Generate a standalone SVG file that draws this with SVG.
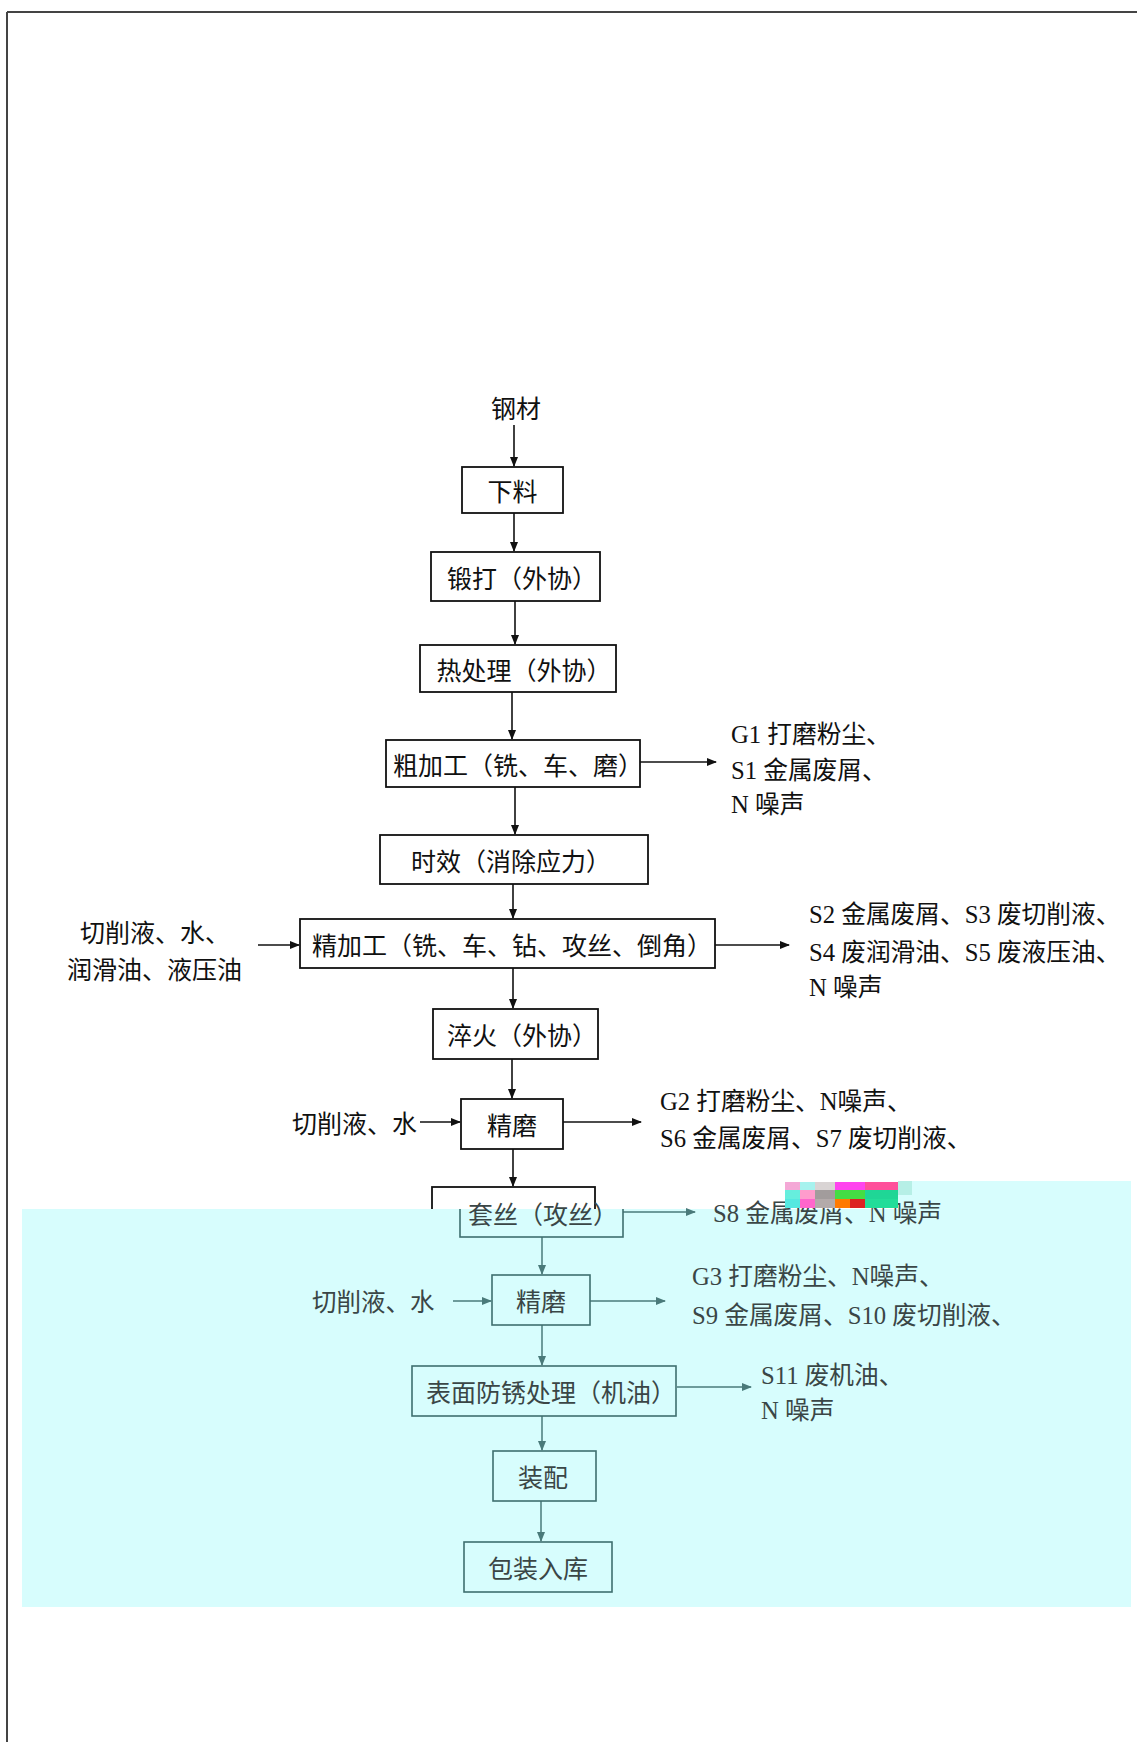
<svg xmlns="http://www.w3.org/2000/svg" width="1137" height="1742" viewBox="0 0 1137 1742">
<style>
.box{fill:none;stroke:#111;stroke-width:1.8}
.boxc{fill:none;stroke:#3f6f6f;stroke-width:1.6}
.t{font-family:"Noto Sans CJK SC",sans-serif;font-size:25px;fill:#111;text-anchor:middle;dominant-baseline:central}
.tc{font-family:"Noto Sans CJK SC",sans-serif;font-size:25px;fill:#3a4646;text-anchor:middle;dominant-baseline:central}
.l{font-family:"Liberation Serif","Noto Sans CJK SC",serif;font-size:24.7px;fill:#111;dominant-baseline:central}
.lc{font-family:"Liberation Serif","Noto Sans CJK SC",serif;font-size:24.7px;fill:#3a4646;dominant-baseline:central}
.s{font-family:"Noto Sans CJK SC",sans-serif;font-size:25px;fill:#111;dominant-baseline:central}
.sc{font-family:"Noto Sans CJK SC",sans-serif;font-size:24.5px;fill:#3a4646;dominant-baseline:central}
.a{stroke:#111;stroke-width:1.6;fill:none;marker-end:url(#ah)}
.ac{stroke:#4a7a7a;stroke-width:1.5;fill:none;marker-end:url(#ahc)}
</style>
<defs>
<marker id="ah" markerWidth="10" markerHeight="8" refX="9" refY="4" orient="auto" markerUnits="userSpaceOnUse"><path d="M0,0 L10,4 L0,8 Z" fill="#111"/></marker>
<marker id="ahc" markerWidth="10" markerHeight="8" refX="9" refY="4" orient="auto" markerUnits="userSpaceOnUse"><path d="M0,0 L10,4 L0,8 Z" fill="#4a7a7a"/></marker>
<clipPath id="upper"><rect x="0" y="0" width="1137" height="1209"/></clipPath>
<clipPath id="lower"><rect x="0" y="1209" width="1137" height="533"/></clipPath>
</defs>
<rect width="1137" height="1742" fill="#fff"/>
<g id="frame">
<line x1="7" y1="12" x2="1137" y2="12" stroke="#444" stroke-width="2"/>
<line x1="7" y1="12" x2="7" y2="1742" stroke="#444" stroke-width="2"/>
</g>
<g id="overlay">
<rect x="22" y="1209" width="1109" height="398" fill="#d7fdfd"/>
<rect x="898" y="1181" width="233" height="28" fill="#d7fdfd"/>
</g>
<g id="connectors">
<line class="a" x1="514" y1="425" x2="514" y2="466"/>
<line class="a" x1="514" y1="513" x2="514" y2="551"/>
<line class="a" x1="515" y1="601" x2="515" y2="644"/>
<line class="a" x1="512" y1="692" x2="512" y2="739"/>
<line class="a" x1="640" y1="762" x2="716" y2="762"/>
<line class="a" x1="515" y1="787" x2="515" y2="834"/>
<line class="a" x1="513" y1="884" x2="513" y2="918"/>
<line class="a" x1="258" y1="945" x2="299" y2="945"/>
<line class="a" x1="715" y1="945" x2="789" y2="945"/>
<line class="a" x1="513" y1="968" x2="513" y2="1008"/>
<line class="a" x1="512" y1="1059" x2="512" y2="1098"/>
<line class="a" x1="420" y1="1122" x2="460" y2="1122"/>
<line class="a" x1="563" y1="1122" x2="641" y2="1122"/>
<line class="a" x1="513" y1="1149" x2="513" y2="1186"/>
<line class="ac" x1="623" y1="1212" x2="695" y2="1212"/>
<line class="ac" x1="542" y1="1237" x2="542" y2="1274"/>
<line class="ac" x1="453" y1="1301" x2="491" y2="1301"/>
<line class="ac" x1="590" y1="1301" x2="665" y2="1301"/>
<line class="ac" x1="542" y1="1325" x2="542" y2="1365"/>
<line class="ac" x1="677" y1="1387" x2="751" y2="1387"/>
<line class="ac" x1="542" y1="1416" x2="542" y2="1450"/>
<line class="ac" x1="541" y1="1501" x2="541" y2="1541"/>
</g>
<g id="n-gangcai"><text class="t" x="516" y="407" font-size="24">钢材</text></g>
<g id="n-xialiao"><rect class="box" x="462" y="467" width="101" height="46"/><text class="t" x="512.5" y="490" font-size="24">下料</text></g>
<g id="n-duanda"><rect class="box" x="431" y="552" width="169" height="49"/><text class="t" x="522" y="576.5">锻打（外协）</text></g>
<g id="n-rechuli"><rect class="box" x="420" y="645" width="196" height="47"/><text class="t" x="524" y="668.5">热处理（外协）</text></g>
<g id="n-cujiagong"><rect class="box" x="386" y="740" width="254" height="47"/><text class="t" x="518" y="763.5" font-size="23.5">粗加工（铣、车、磨）</text></g>
<g id="o-g1"><text class="l" x="731" y="734">G1 打磨粉尘、</text><text class="l" x="731" y="770">S1 金属废屑、</text><text class="l" x="731" y="804">N 噪声</text></g>
<g id="n-shixiao"><rect class="box" x="380" y="835" width="268" height="49"/><text class="t" x="511" y="859.5" font-size="24">时效（消除应力）</text></g>
<g id="i-jingjiagong"><text class="s" x="80" y="931">切削液、水、</text><text class="s" x="67" y="968" font-size="26">润滑油、液压油</text></g>
<g id="n-jingjiagong"><rect class="box" x="300" y="919" width="415" height="49"/><text class="t" x="512" y="943.5" font-size="26.5">精加工（铣、车、钻、攻丝、倒角）</text></g>
<g id="o-s2"><text class="l" x="809" y="914">S2 金属废屑、S3 废切削液、</text><text class="l" x="809" y="952">S4 废润滑油、S5 废液压油、</text><text class="l" x="809" y="987">N 噪声</text></g>
<g id="n-cuihuo"><rect class="box" x="433" y="1009" width="165" height="50"/><text class="t" x="522" y="1034" font-size="24">淬火（外协）</text></g>
<g id="i-jingmo1"><text class="s" x="292" y="1122" font-size="24">切削液、水</text></g>
<g id="n-jingmo1"><rect class="box" x="461" y="1099" width="102" height="50"/><text class="t" x="512" y="1124">精磨</text></g>
<g id="o-g2"><text class="l" x="660" y="1101">G2 打磨粉尘、N噪声、</text><text class="l" x="660" y="1138">S6 金属废屑、S7 废切削液、</text></g>
<g id="n-taosi">
<g clip-path="url(#upper)"><rect class="box" x="432" y="1187" width="163" height="50"/></g>
<g clip-path="url(#lower)"><rect class="boxc" x="460" y="1187" width="163" height="50"/></g>
<text class="tc" x="543" y="1213" font-size="24">套丝（攻丝）</text>
</g>
<g id="o-s8"><text class="lc" x="713" y="1213">S8 金属废屑、N 噪声</text></g>
<g id="glitch">
<rect x="898" y="1181" width="14" height="14" fill="#b6efe6"/>
<rect x="785" y="1182" width="15" height="8" fill="#f4a8d6"/>
<rect x="800" y="1182" width="15" height="8" fill="#a6f2ee"/>
<rect x="815" y="1182" width="20" height="8" fill="#d9d4d4"/>
<rect x="835" y="1182" width="30" height="8" fill="#ff44ee"/>
<rect x="865" y="1182" width="33" height="8" fill="#ff4f9a"/>
<rect x="785" y="1190" width="15" height="9" fill="#66eedd"/>
<rect x="800" y="1190" width="15" height="9" fill="#ff9ccc"/>
<rect x="815" y="1190" width="20" height="9" fill="#a29c9c"/>
<rect x="835" y="1190" width="30" height="9" fill="#44dd44"/>
<rect x="865" y="1190" width="33" height="9" fill="#1fd696"/>
<rect x="785" y="1199" width="15" height="9" fill="#55e8e0"/>
<rect x="800" y="1199" width="15" height="9" fill="#ff66cc"/>
<rect x="815" y="1199" width="20" height="9" fill="#b3aaaa"/>
<rect x="835" y="1199" width="15" height="9" fill="#ff7a00"/>
<rect x="850" y="1199" width="15" height="9" fill="#dd2222"/>
<rect x="865" y="1199" width="33" height="9" fill="#22dd99"/>
</g>
<g id="i-jingmo2"><text class="sc" x="312" y="1300">切削液、水</text></g>
<g id="n-jingmo2"><rect class="boxc" x="492" y="1275" width="98" height="50"/><text class="tc" x="541" y="1300">精磨</text></g>
<g id="o-g3"><text class="lc" x="692" y="1276">G3 打磨粉尘、N噪声、</text><text class="lc" x="692" y="1315">S9 金属废屑、S10 废切削液、</text></g>
<g id="n-fangxiu"><rect class="boxc" x="412" y="1366" width="264" height="50"/><text class="tc" x="551" y="1391" font-size="26">表面防锈处理（机油）</text></g>
<g id="o-s11"><text class="lc" x="761" y="1375" font-size="25.5">S11 废机油、</text><text class="lc" x="761" y="1410" font-size="25.5">N 噪声</text></g>
<g id="n-zhuangpei"><rect class="boxc" x="493" y="1451" width="103" height="50"/><text class="tc" x="543" y="1476" font-size="26">装配</text></g>
<g id="n-baozhuang"><rect class="boxc" x="464" y="1542" width="148" height="50"/><text class="tc" x="538" y="1567">包装入库</text></g>
</svg>
